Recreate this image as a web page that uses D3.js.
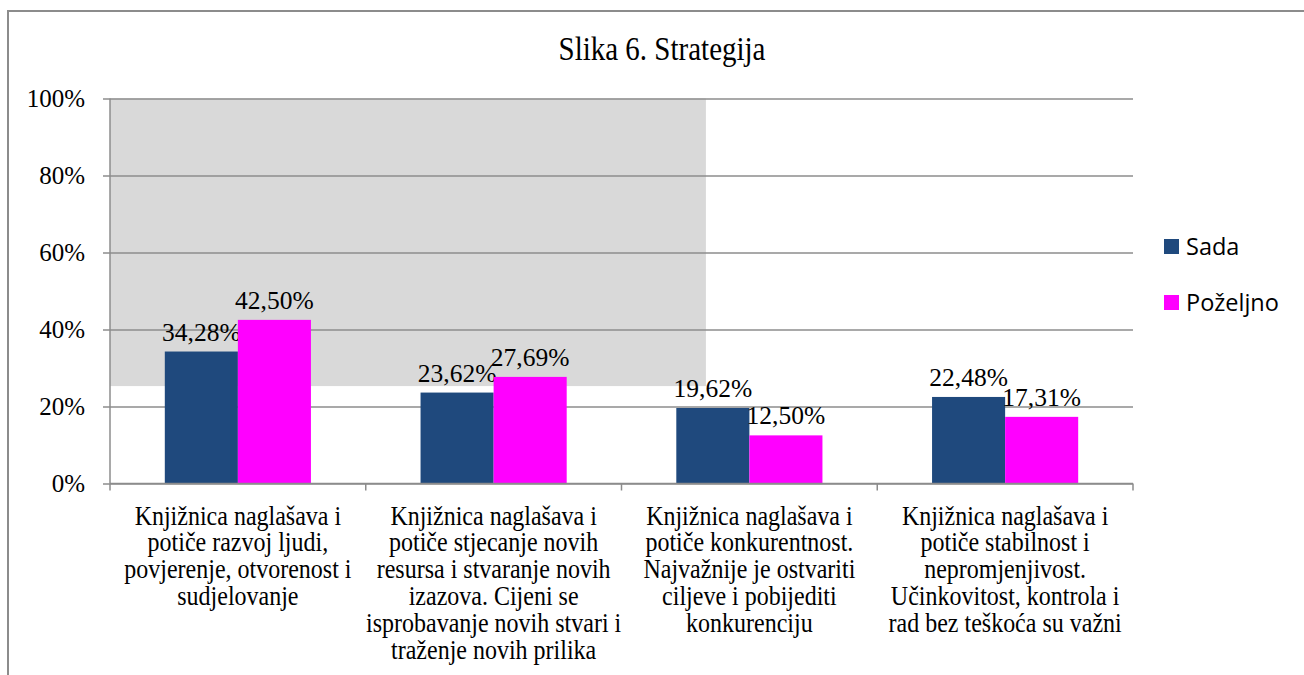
<!DOCTYPE html>
<html>
<head>
<meta charset="utf-8">
<script src="https://cdn.jsdelivr.net/npm/d3@7"></script>
<style>
  body { margin: 0; background: #fff; }
</style>
</head>
<body>
<div id="chart"></div>
<script>
// data
var categories = [
  ["Knjižnica naglašava i", "potiče razvoj ljudi,", "povjerenje, otvorenost i", "sudjelovanje"],
  ["Knjižnica naglašava i", "potiče stjecanje novih", "resursa i stvaranje novih", "izazova. Cijeni se", "isprobavanje novih stvari i", "traženje novih prilika"],
  ["Knjižnica naglašava i", "potiče konkurentnost.", "Najvažnije je ostvariti", "ciljeve i pobijediti", "konkurenciju"],
  ["Knjižnica naglašava i", "potiče stabilnost i", "nepromjenjivost.", "Učinkovitost, kontrola i", "rad bez teškoća su važni"]
]
var seriesNames = ["Sada", "Poželjno"]
var sada = [34.28, 23.62, 19.62, 22.48]
var pozeljno = [42.50, 27.69, 12.50, 17.31]
var yTicks = [0, 20, 40, 60, 80, 100]
var title = "Slika 6. Strategija"
// grey shaded block behind the first bars (value range, and how many categories it spans)
var shadeValues = [25.3, 100]
var shadeSpan = 2.33

var serif = "'Liberation Serif', 'Times New Roman', serif"
var sans = "'Open Sans', 'Liberation Sans', sans-serif"
var colors = ["#1F497D", "#FF00FF"]
var screen = {width: 1304, height: 675}
var margin = {top: 98.5, right: 171, bottom: 191.5, left: 110}
var w = screen.width - margin.left - margin.right
var h = screen.height - margin.top - margin.bottom

var svg = d3.select("#chart").append("svg")
  .attr("width", screen.width)
  .attr("height", screen.height)

// outer frame
svg.append("path")
  .attr("d", "M8,675 V11 H1304")
  .attr("fill", "none")
  .attr("stroke", "#8c8c8c")
  .attr("stroke-width", 2)

// title (the source text is a little taller than wide)
svg.append("text")
  .attr("transform", "translate(662,60) scale(1,1.15)")
  .attr("text-anchor", "middle")
  .style("font-family", serif)
  .style("font-size", "29px")
  .text(title)

var g = svg.append("g").attr("transform", "translate(" + margin.left + "," + margin.top + ")")

// scales
var yScale = d3.scaleLinear().domain([0, 100]).range([h, 0])
var xScale = d3.scaleBand().domain(d3.range(categories.length)).range([0, w]).paddingInner(0).paddingOuter(0)
var xSub = d3.scaleBand().domain(d3.range(seriesNames.length)).range([0, xScale.bandwidth()]).paddingOuter(0.75).paddingInner(0)

// shaded block
g.append("rect")
  .attr("x", 0)
  .attr("y", yScale(shadeValues[1]))
  .attr("width", xScale.step() * shadeSpan)
  .attr("height", yScale(shadeValues[0]) - yScale(shadeValues[1]))
  .attr("fill", "#D9D9D9")

// gridlines
g.append("g")
  .call(d3.axisLeft(yScale).tickValues(yTicks).tickSize(-w).tickFormat(""))
  .call(function(s) {
    s.select(".domain").remove()
    s.selectAll("line").attr("stroke", "#8c8c8c").attr("stroke-width", 1.5)
  })

// y axis
g.append("g")
  .call(d3.axisLeft(yScale).tickValues(yTicks).tickSize(7).tickPadding(18).tickFormat(function(d) { return d + "%" }))
  .call(function(s) {
    s.select(".domain").attr("stroke", "#8c8c8c").attr("stroke-width", 1.5).attr("d", "M0," + h + "V0")
    s.selectAll("line").attr("stroke", "#8c8c8c").attr("stroke-width", 1.5)
    s.selectAll("text").style("font-size", "25px").style("font-family", serif).attr("fill", "#000").attr("dy", "0.33em")
  })

// bars
var series = [sada, pozeljno]
series.forEach(function(vals, si) {
  g.selectAll(".bar" + si)
    .data(vals)
    .enter()
    .append("rect")
    .attr("x", function(d, i) { return xScale(i) + xSub(si) })
    .attr("y", function(d) { return yScale(d) })
    .attr("width", xSub.bandwidth())
    .attr("height", function(d) { return h - yScale(d) })
    .attr("fill", colors[si])

  g.selectAll(".lbl" + si)
    .data(vals)
    .enter()
    .append("text")
    .attr("x", function(d, i) { return xScale(i) + xSub(si) + xSub.bandwidth() / 2 })
    .attr("y", function(d) { return yScale(d) - 11 })
    .attr("text-anchor", "middle")
    .style("font-family", serif)
    .style("font-size", "25.5px")
    .text(function(d) { return d.toFixed(2).replace(".", ",") + "%" })
})

// x axis line with ticks at category boundaries
var xAxis = g.append("g").attr("transform", "translate(0," + h + ")")
xAxis.append("line").attr("x1", 0).attr("x2", w).attr("stroke", "#8c8c8c").attr("stroke-width", 1.5)
xAxis.selectAll(".tk")
  .data(d3.range(categories.length + 1))
  .enter()
  .append("line")
  .attr("x1", function(d) { return d * xScale.step() })
  .attr("x2", function(d) { return d * xScale.step() })
  .attr("y1", 0).attr("y2", 7)
  .attr("stroke", "#8c8c8c").attr("stroke-width", 1.5)

// category labels
categories.forEach(function(lines, i) {
  var cx = xScale(i) + xScale.bandwidth() / 2
  lines.forEach(function(line, li) {
    xAxis.append("text")
      .attr("transform", "translate(" + cx + "," + (41 + li * 26.8) + ") scale(1,1.1)")
      .attr("text-anchor", "middle")
      .style("font-family", serif)
      .style("font-size", "24px")
      .text(line)
  })
})

// legend
var legend = svg.append("g").attr("transform", "translate(1164,239)")
seriesNames.forEach(function(name, i) {
  var row = legend.append("g").attr("transform", "translate(0," + (i * 56) + ")")
  row.append("rect").attr("width", 15).attr("height", 15).attr("fill", colors[i])
  row.append("text").attr("x", 22).attr("y", 16).style("font-family", sans).style("font-size", "23.5px").text(name)
})
</script>
</body>
</html>
